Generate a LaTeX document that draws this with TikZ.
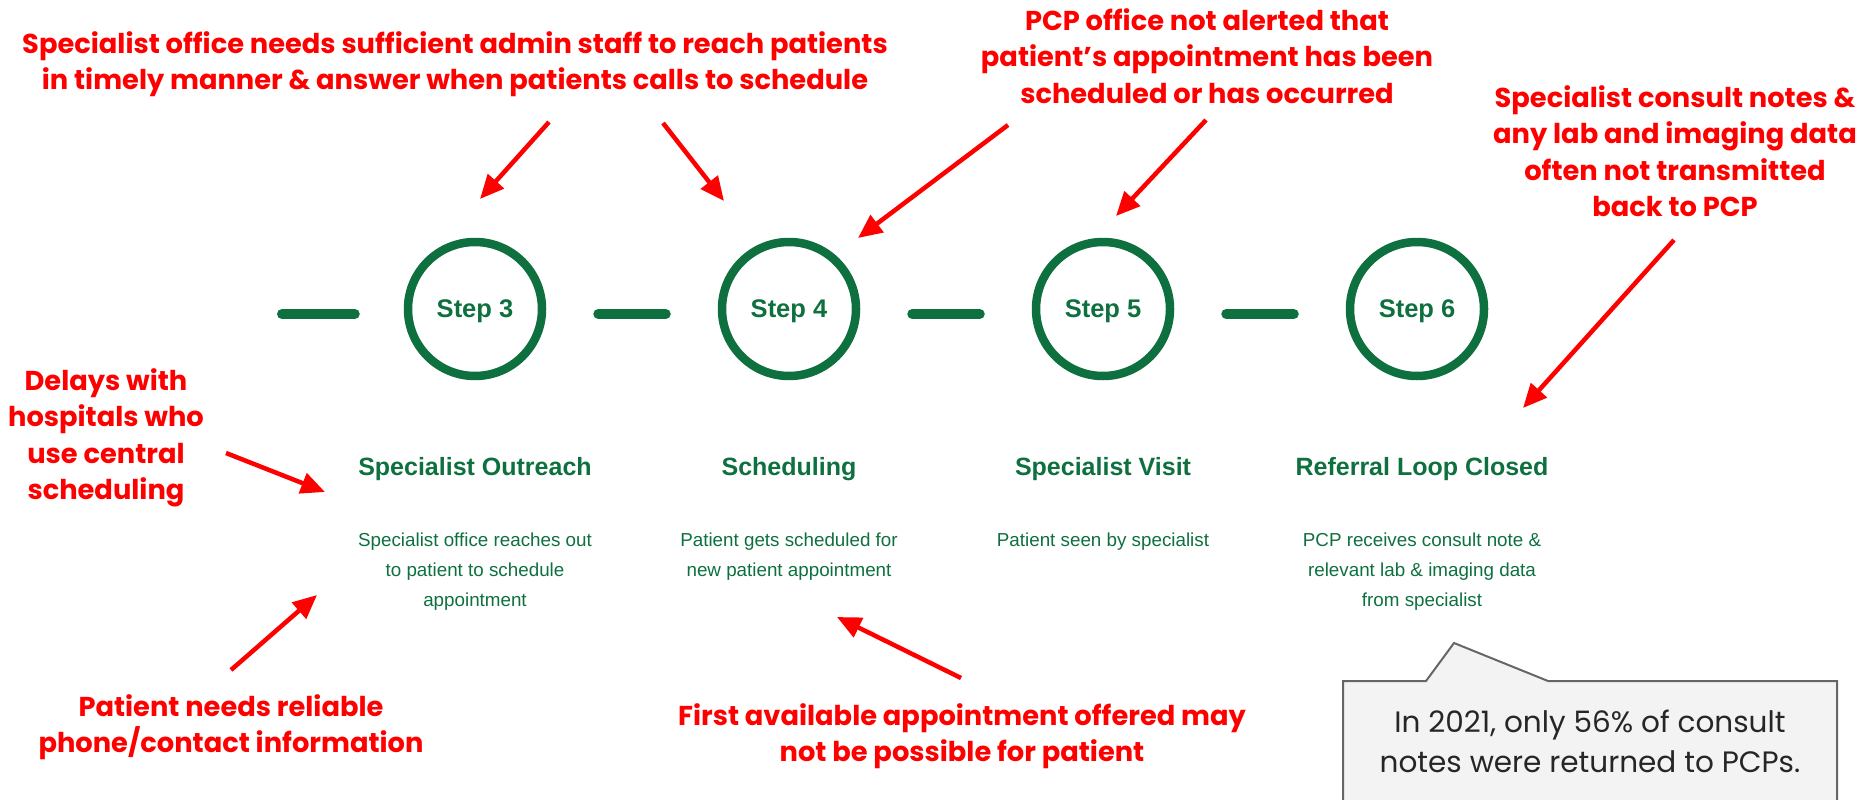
\documentclass[tikz,border=0pt]{standalone}
\usepackage{fontspec}
\usepackage{xcolor}
\usetikzlibrary{arrows.meta, positioning}
\newfontfamily\issuefont{Poppins}
\newfontfamily\stepfont{Liberation Sans}
\definecolor{stepgreen}{RGB}{14,112,62}
\definecolor{issuered}{RGB}{255,0,0}
\definecolor{notegray}{RGB}{243,243,243}
\definecolor{noteedge}{RGB}{102,102,102}

\begin{document}
\begin{tikzpicture}[x=1pt, y=-1pt,
    stepcircle/.style={circle, draw=stepgreen, line width=8.5pt, minimum size=134pt, inner sep=0pt, text depth=0pt, text=stepgreen, font=\stepfont\bfseries\fontsize{25.5}{28}\selectfont},
    steptitle/.style={text=stepgreen, font=\stepfont\bfseries\fontsize{25}{30}\selectfont},
    stepdesc/.style={text=stepgreen, align=center, anchor=north, inner sep=0pt, font=\stepfont\fontsize{18.8}{30}\selectfont},
    link/.style={stepgreen, line width=10pt, line cap=round},
    issue/.style={text=issuered, align=center, font=\issuefont\bfseries\fontsize{27.3}{36.5}\selectfont},
    issuearrow/.style={issuered, line width=4.5pt, -{Triangle[length=24pt, width=21pt]}}]
    \useasboundingbox (0,0) rectangle (1868,800);
    \clip (0,0) rectangle (1868,800);

    % Steps
    \node[stepcircle] (s3) at (475,309) {Step 3};
    \node[stepcircle, on grid, right=314pt of s3] (s4) {Step 4};
    \node[stepcircle, on grid, right=314pt of s4] (s5) {Step 5};
    \node[stepcircle, on grid, right=314pt of s5] (s6) {Step 6};

    % Links
    \coordinate (lead) at (282,314);
    \draw[link] (lead) -- ([xshift=-49pt,yshift=-5pt]s3.west);
    \foreach \a/\b in {s3/s4, s4/s5, s5/s6}
        \draw[link] ([xshift=52pt,yshift=-5pt]\a.east) -- ([xshift=-52pt,yshift=-5pt]\b.west);

    % Titles
    \node[steptitle, on grid, below=160pt of s3] (t3) {Specialist Outreach};
    \node[steptitle, on grid, below=160pt of s4] (t4) {Scheduling};
    \node[steptitle, on grid, below=160pt of s5] (t5) {Specialist Visit};
    \node[steptitle, on grid, below=160pt of s6, xshift=5pt] (t6) {Referral Loop Closed};

    % Descriptions
    \node[stepdesc] (d3) at ([yshift=-64pt]t3.center) {Specialist office reaches out\\to patient to schedule\\appointment};
    \node[stepdesc] (d4) at ([yshift=-64pt]t4.center) {Patient gets scheduled for\\new patient appointment};
    \node[stepdesc] (d5) at ([yshift=-64pt]t5.center) {Patient seen by specialist};
    \node[stepdesc] (d6) at ([yshift=-64pt]t6.center) {PCP receives consult note \&\\relevant lab \& imaging data\\from specialist};

    % Issues
    \node[issue] (staff) at (455,64) {Specialist office needs sufficient admin staff to reach patients\\in timely manner \& answer when patients calls to schedule};
    \node[issue] (alert) at (1207,56) {PCP office not alerted that\\patient’s appointment has been\\scheduled or has occurred};
    \node[issue] (notes) at (1675,151) {Specialist consult notes \&\\any lab and imaging data\\often not transmitted\\back to PCP};
    \node[issue] (central) at (106,438) {Delays with\\hospitals who\\use central\\scheduling};
    \node[issue] (contact) at (231,727) {Patient needs reliable\\phone/contact information};
    \node[issue] (offer) at (962,736) {First available appointment offered may\\not be possible for patient};

    % Arrow ends
    \coordinate (staff-l) at (549,122);
    \coordinate (staff-r) at (663,123);
    \coordinate (alert-l) at (1008,125);
    \coordinate (alert-r) at (1206,120);
    \coordinate (notes-a) at (1674,240);
    \coordinate (central-a) at (226,453);
    \coordinate (contact-a) at (231,670);
    \coordinate (offer-a) at (961,678);
    \coordinate (s3-top) at (480,199);
    \coordinate (s4-top) at (724,201);
    \coordinate (s4-ne) at (858,238);
    \coordinate (s5-top) at (1116,216);
    \coordinate (t6-ne) at (1523,408);
    \coordinate (t3-w) at (325,492);
    \coordinate (d3-w) at (317,595);
    \coordinate (d4-s) at (837,617);

    \draw[issuearrow] (staff-l) -- (s3-top);
    \draw[issuearrow] (staff-r) -- (s4-top);
    \draw[issuearrow] (alert-l) -- (s4-ne);
    \draw[issuearrow] (alert-r) -- (s5-top);
    \draw[issuearrow] (notes-a) -- (t6-ne);
    \draw[issuearrow] (central-a) -- (t3-w);
    \draw[issuearrow] (contact-a) -- (d3-w);
    \draw[issuearrow] (offer-a) -- (d4-s);

    % Callout
    \draw[fill=notegray, draw=noteedge, line width=2pt] (1343,681) -- (1426,681) -- (1454,643) -- (1548,681) -- (1837,681) -- (1837,812) -- (1343,812) -- cycle;
    \node[text=black!85, align=center, font=\issuefont\fontsize{29.5}{40}\selectfont] (note) at (1590,741) {In 2021, only 56\% of consult\\notes were returned to PCPs.};
\end{tikzpicture}
\end{document}
